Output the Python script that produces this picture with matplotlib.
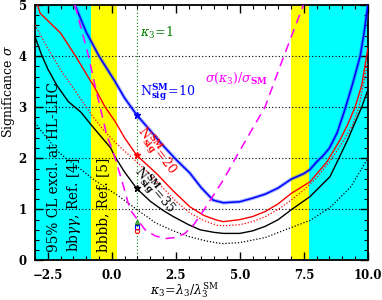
import matplotlib
matplotlib.use("Agg")
import matplotlib.pyplot as plt
from matplotlib.ticker import MultipleLocator

plt.rcParams['font.family'] = ['DejaVu Serif']
plt.rcParams['mathtext.fontset'] = 'dejavuserif'

# excluded kappa_3 regions
cyan_bands = [(-3.0, -0.8), (7.7, 10.0)]
yellow_bands = [(-0.8, 0.2), (7.0, 7.7)]

# N_sig^SM = 10 (blue)
k_blue = [-1.44, -1.0, -0.5, 0.13, 0.5, 0.97, 1.49, 2.0, 2.5, 3.05, 3.5, 3.96, 4.36,
          5.0, 5.5, 6.0, 6.5, 7.0, 7.5, 7.74, 8.0, 8.25, 8.5, 8.8, 9.1, 9.4, 9.7, 9.85, 10.0]
s_blue = [5.0, 4.47, 4.0, 3.5, 3.18, 2.85, 2.55, 2.25, 1.98, 1.71, 1.42, 1.18, 1.13,
          1.15, 1.22, 1.3, 1.42, 1.59, 1.7, 1.78, 1.93, 2.05, 2.2, 2.5, 2.95, 3.45, 4.0, 4.45, 5.0]

# N_sig^SM = 20 (red, solid and dotted)
k_red = [-2.9, -2.8, -2.0, -1.44, -0.85, -0.72, -0.27, 0.13, 0.5, 0.97, 1.75, 2.4, 3.05,
         3.6, 4.1, 4.36, 5.0, 5.5, 6.0, 6.5, 7.0, 7.74, 8.4, 8.9, 9.2, 9.5, 9.76, 10.0]
s_red = [5.0, 4.84, 4.45, 4.02, 3.53, 3.43, 3.01, 2.72, 2.4, 2.06, 1.7, 1.36, 1.05,
         0.88, 0.79, 0.76, 0.8, 0.86, 0.96, 1.11, 1.31, 1.54, 1.93, 2.35, 2.65, 3.0, 3.43, 4.15]
k_red_dot = [-3.0, -2.5, -1.96, -1.4, -0.79, -0.27, 0.2, 0.52, 1.0, 1.5, 2.0, 2.5, 3.05,
             3.6, 4.1, 4.4, 5.0, 5.5, 6.0, 6.5, 7.0, 7.5, 8.0, 8.5, 9.0, 9.4, 9.65, 10.0]
s_red_dot = [4.61, 4.15, 3.7, 3.3, 2.85, 2.52, 2.28, 2.13, 1.92, 1.68, 1.42, 1.16, 0.93,
             0.78, 0.69, 0.68, 0.7, 0.76, 0.86, 1.0, 1.18, 1.38, 1.62, 1.93, 2.3, 2.65, 3.0, 3.89]

# N_sig^SM = 35 (black, solid and dotted)
k_blk = [-3.0, -2.74, -2.5, -2.15, -1.7, -1.2, -0.8, -0.04, 0.1, 0.5, 0.97, 1.5, 2.0, 2.4,
         3.0, 3.45, 4.0, 4.36, 5.0, 5.5, 6.0, 6.5, 7.0, 7.74, 8.0, 8.52, 8.8, 9.2, 9.5, 9.76, 10.0]
s_blk = [4.38, 4.02, 3.75, 3.43, 3.11, 2.9, 2.65, 2.2, 2.05, 1.73, 1.41, 1.16, 0.98, 0.86,
         0.7, 0.6, 0.55, 0.53, 0.53, 0.58, 0.67, 0.8, 0.99, 1.25, 1.38, 1.64, 1.93, 2.35, 2.7, 3.0, 3.34]
k_blk_dot = [-3.0, -2.78, -2.09, -1.74, -1.2, -0.7, 0.21, 1.0, 1.73, 2.4, 3.0, 3.7, 4.3,
             5.0, 6.0, 7.03, 7.77, 8.55, 9.33, 10.0]
s_blk_dot = [2.7, 2.55, 2.13, 1.98, 1.78, 1.58, 1.28, 0.99, 0.73, 0.58, 0.47, 0.38, 0.33,
             0.35, 0.45, 0.65, 0.79, 1.05, 1.44, 2.0]

# sigma(kappa_3)/sigma_SM (magenta dashed)
k_mag = [-1.44, -0.92, -0.66, -0.2, 0.1, 0.4, 0.71, 1.0, 1.3, 1.7, 2.1, 2.5, 2.86, 3.2,
         3.6, 4.36, 4.94, 5.98, 6.57, 7.48]
s_mag = [5.0, 4.02, 3.43, 2.46, 2.05, 1.55, 1.0, 0.8, 0.6, 0.48, 0.43, 0.45, 0.53, 0.7,
         0.99, 1.58, 2.1, 3.0, 3.8, 5.0]

# SM points at kappa_3 = 1
star_sig = [2.85, 2.06, 1.41]
star_cols = ['blue', 'red', 'black']
small_sig = [0.76, 0.66, 0.58]
small_marks = ['^', 's', 'o']
small_cols = ['green', 'blue', 'red']

x_ticks = [-2.5, 0.0, 2.5, 5.0, 7.5, 10.0]
x_ticklabels = ['\u22122.5', '0.0', '2.5', '5.0', '7.5', '10.0']
y_ticks = [0, 1, 2, 3, 4, 5]

fig = plt.figure(figsize=(3.82, 3.0), dpi=100)
ax = fig.add_axes([0.0916, 0.1317, 0.8714, 0.8516])

for lo, hi in cyan_bands:
    ax.axvspan(lo, hi, color='#00ffff', lw=0, zorder=0)
for lo, hi in yellow_bands:
    ax.axvspan(lo, hi, color='#ffff00', lw=0, zorder=0)

for yv in [1, 2, 3, 4]:
    ax.axhline(yv, color='black', lw=0.8, ls=(0, (1, 2)), zorder=1)
ax.axvline(1.0, color='green', lw=0.8, ls=(0, (1, 2)), zorder=1)

ax.plot(k_blue, s_blue, color='#3355ff', lw=2.6, alpha=0.45, zorder=3)
ax.plot(k_blue, s_blue, color='blue', lw=1.1, zorder=3)
ax.plot(k_red, s_red, color='red', lw=1.0, zorder=3)
ax.plot(k_red_dot, s_red_dot, color='red', lw=0.9, ls=(0, (1, 1.5)), zorder=3)
ax.plot(k_blk, s_blk, color='black', lw=1.0, zorder=3)
ax.plot(k_blk_dot, s_blk_dot, color='black', lw=0.9, ls=(0, (1, 1.5)), zorder=3)
ax.plot(k_mag, s_mag, color='#ff00ff', lw=1.1, ls=(0, (6, 4)), zorder=3)

for s, c in zip(star_sig, star_cols):
    ax.plot([1.0], [s], marker='*', ms=5, color=c, zorder=4)
for s, m, c in zip(small_sig, small_marks, small_cols):
    ax.plot([1.0], [s], marker=m, ms=3, mfc='none', mec=c, mew=0.8, zorder=4)

ax.text(1.1, 4.45, r'$\kappa_3\!=\!1$', color='green', fontsize=9, va='center')
ax.text(1.1, 3.3, r'$\mathrm{N}^{\mathbf{SM}}_{\mathbf{sig}}\!=\!10$', color='blue',
        fontsize=9, va='center')
ax.text(3.64, 3.56, r'$\sigma(\kappa_3)/\sigma_{\mathbf{SM}}$', color='#ff00ff',
        fontsize=9, va='center')
ax.text(1.73, 2.14, r'$\mathrm{N}^{\mathbf{SM}}_{\mathbf{sig}}\!=\!20$', color='red',
        fontsize=9, ha='center', va='center', rotation=-53)
ax.text(1.65, 1.37, r'$\mathrm{N}^{\mathbf{SM}}_{\mathbf{sig}}\!=\!35$', color='black',
        fontsize=9, ha='center', va='center', rotation=-50)
ax.text(-2.26, 0.17, '95% CL excl. at HL-LHC', rotation=90, fontsize=9.8,
        ha='center', va='bottom')
ax.text(-1.48, 0.17, r'bb$\gamma\gamma$, Ref. [4]', rotation=90, fontsize=9.8,
        ha='center', va='bottom')
ax.text(-0.34, 0.17, 'bbbb, Ref. [5]', rotation=90, fontsize=9.8,
        ha='center', va='bottom')

ax.set_xlim(-3, 10)
ax.set_ylim(0, 5)
ax.set_xticks(x_ticks)
ax.set_xticklabels(x_ticklabels, fontweight='bold')
ax.set_yticks(y_ticks)
ax.set_yticklabels([str(v) for v in y_ticks], fontweight='bold')
ax.xaxis.set_minor_locator(MultipleLocator(0.5))
ax.yaxis.set_minor_locator(MultipleLocator(0.2))
ax.tick_params(which='both', direction='in', top=True, right=True)
ax.tick_params(which='major', length=6, width=1.0, labelsize=8.5, pad=6)
ax.tick_params(which='minor', length=3, width=0.8)
for sp in ax.spines.values():
    sp.set_linewidth(1.3)

ax.set_xlabel(r'$\kappa_3\!=\!\lambda_3/\lambda_3^{\rm SM}$', fontsize=9)
ax.xaxis.set_label_coords(0.45, -0.08)
ax.set_ylabel(r'Significance $\sigma$', fontsize=9)
ax.yaxis.set_label_coords(-0.055, 0.66)

fig.savefig('out.png', dpi=100)
